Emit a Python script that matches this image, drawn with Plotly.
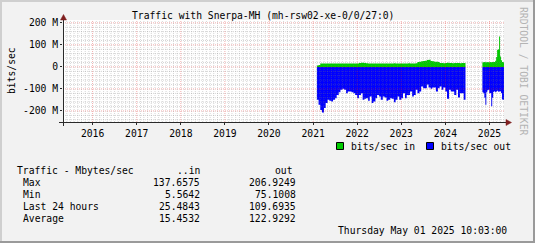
import plotly.graph_objects as go
import pandas as pd

# ---------------- data ----------------
# segment 1: semi-monthly bins, Feb 2021 .. mid Jun 2024 (values in Mbit/s)
seg1_first_bin = "2021-02-01"
seg1_bins = 81
seg1_end = "2024-06-16"
seg1_in = [6, 9, 15, 16, 16, 15, 16, 16, 15, 16,
           16, 16, 15, 16, 16, 16, 15, 16, 16, 15,
           16, 16, 16, 18, 19, 19, 18, 17, 16, 15,
           16, 16, 15, 16, 16, 16, 16, 15, 16, 16,
           16, 16, 17, 16, 16, 16, 15, 16, 16, 16,
           17, 16, 16, 16, 17, 22, 24, 26, 27, 28,
           31, 32, 27, 26, 24, 23, 22, 18, 18, 17,
           18, 19, 18, 18, 17, 18, 18, 18, 17, 18,
           18]
seg1_out = [149, 172, 195, 206.9, 187, 164, 149, 154, 157, 149,
            142, 127, 115, 104, 99.5, 104, 119, 112, 112, 115,
            119, 127, 142, 127, 119, 149, 145, 142, 154, 134,
            164, 157, 142, 127, 134, 149, 134, 139, 154, 149,
            142, 145, 160, 149, 134, 149, 142, 119, 142, 127,
            127, 112, 134, 127, 104, 119, 112, 89, 96.5, 96.5,
            80, 93.5, 99.5, 93.5, 93.5, 112, 96.5, 89, 104, 93.5,
            112, 145, 104, 112, 112, 127, 104, 139, 119, 119,
            149]

# segment 2: ~8-day bins, Nov 2024 .. May 2025
seg2_start = "2024-11-03"
seg2_end = "2025-05-01"
seg2_in = [21, 21, 22, 21, 21, 22, 21, 21, 22, 21, 22,
           22, 22, 28, 45, 77, 80, 137.66, 47, 30, 22, 21]
seg2_out = [115, 120, 140, 172, 115, 106, 104, 118, 120, 178, 140,
            114, 110, 115, 112, 108, 113, 111, 110, 118, 148, 149]

x_range = ["2015-05-01", "2025-05-01"]
y_range = [-250, 213]
years = list(range(2016, 2026))
year_labels = [str(y) for y in years]
y_ticks = [-200, -100, 0, 100, 200]
y_tick_labels = ["-200 M", "-100 M", "0", "100 M", "200 M"]

title = "Traffic with Snerpa-MH (mh-rsw02-xe-0/0/27:0)"
legend_names = ["bits/sec in", "bits/sec out"]
stats_header = ["Traffic - Mbytes/sec", "..in", "out"]
stats_rows = ["Max", "Min", "Last 24 hours", "Average"]
stats_in = ["137.6575", "5.5642", "25.4843", "15.4532"]
stats_out = ["206.9249", "75.1008", "109.6935", "122.9292"]
timestamp = "Thursday May 01 2025 10:03:00"
watermark = "RRDTOOL / TOBI OETIKER"

C_IN = "#00CC00"
C_OUT = "#0000FF"

# ---------------- layout geometry ----------------
W, H = 535, 243
L, R, T, B = 63, 31, 20, 121
PW, PH = W - L - R, H - T - B
MONO = "DejaVu Sans Mono"
FS = 9.7


def px(x):
    return (x - L) / PW


def py(y):
    return (H - B - y) / PH


def step_xy(edges, vals):
    return list(edges), list(vals) + [vals[-1]]


seg1_edges = list(pd.date_range(seg1_first_bin, periods=seg1_bins, freq="SMS")) + [pd.Timestamp(seg1_end)]
seg2_edges = list(pd.date_range(seg2_start, seg2_end, periods=len(seg2_in) + 1))

fig = go.Figure()
for edges, vin, vout in [(seg1_edges, seg1_in, seg1_out), (seg2_edges, seg2_in, seg2_out)]:
    xs, ys = step_xy(edges, vin)
    fig.add_trace(go.Scatter(x=xs, y=ys, mode="lines", line=dict(width=0, shape="hv"),
                             fill="tozeroy", fillcolor=C_IN, showlegend=False, hoverinfo="skip"))
    xs, ys = step_xy(edges, [-v for v in vout])
    fig.add_trace(go.Scatter(x=xs, y=ys, mode="lines", line=dict(width=0, shape="hv"),
                             fill="tozeroy", fillcolor=C_OUT, showlegend=False, hoverinfo="skip"))

shapes = []
GRID = "rgba(120,120,120,0.3)"
MGRID = "rgba(215,40,40,0.38)"
DASH = "1px,1px"
# minor vertical grid (monthly)
for d in pd.date_range("2015-06-01", x_range[1], freq="MS"):
    if d.month != 1:
        shapes.append(dict(type="line", xref="x", yref="paper", x0=d, x1=d, y0=0, y1=1,
                           line=dict(color=GRID, width=1, dash=DASH), layer="above"))
# minor horizontal grid (20 M)
for v in range(-240, 213, 20):
    if v % 100 != 0:
        shapes.append(dict(type="line", xref="paper", yref="y", x0=0, x1=1, y0=v, y1=v,
                           line=dict(color=GRID, width=1, dash=DASH), layer="above"))
# major grid
for y in years:
    d = pd.Timestamp(f"{y}-01-01")
    shapes.append(dict(type="line", xref="x", yref="paper", x0=d, x1=d, y0=0, y1=1,
                       line=dict(color=MGRID, width=1, dash=DASH), layer="above"))
for v in y_ticks:
    shapes.append(dict(type="line", xref="paper", yref="y", x0=0, x1=1, y0=v, y1=v,
                       line=dict(color=MGRID, width=1, dash=DASH), layer="above"))

AXIS = "#2a2a2a"
ARROW = "#7F1F1F"
# axes lines
shapes.append(dict(type="line", xref="paper", yref="paper", x0=px(59), x1=px(507), y0=py(122.5), y1=py(122.5),
                   line=dict(color=AXIS, width=1), layer="above"))
shapes.append(dict(type="line", xref="paper", yref="paper", x0=px(63.5), x1=px(63.5), y0=py(126), y1=py(17),
                   line=dict(color=AXIS, width=1), layer="above"))
# arrows
shapes.append(dict(type="path", xref="paper", yref="paper",
                   path=f"M {px(506)} {py(119.5)} L {px(511.5)} {py(122.5)} L {px(506)} {py(125.5)} Z",
                   fillcolor=ARROW, line=dict(color=ARROW, width=0.5), layer="above"))
shapes.append(dict(type="path", xref="paper", yref="paper",
                   path=f"M {px(60.5)} {py(20)} L {px(63.5)} {py(14.5)} L {px(66.5)} {py(20)} Z",
                   fillcolor=ARROW, line=dict(color=ARROW, width=0.5), layer="above"))
# frame shading
SHADEA, SHADEB = "#CFCFCF", "#9A9A9A"
shapes.append(dict(type="line", xref="paper", yref="paper", x0=px(0), x1=px(W), y0=py(1), y1=py(1),
                   line=dict(color=SHADEA, width=2)))
shapes.append(dict(type="line", xref="paper", yref="paper", x0=px(1), x1=px(1), y0=py(0), y1=py(H),
                   line=dict(color=SHADEA, width=2)))
shapes.append(dict(type="line", xref="paper", yref="paper", x0=px(0), x1=px(W), y0=py(H - 1), y1=py(H - 1),
                   line=dict(color=SHADEB, width=2)))
shapes.append(dict(type="line", xref="paper", yref="paper", x0=px(W - 1), x1=px(W - 1), y0=py(0), y1=py(H),
                   line=dict(color=SHADEB, width=2)))
# legend boxes
for x0, col in [(336.5, C_IN), (426.5, C_OUT)]:
    shapes.append(dict(type="rect", xref="paper", yref="paper", x0=px(x0), x1=px(x0 + 7),
                       y0=py(149.5), y1=py(142.5), fillcolor=col, line=dict(color="#000000", width=1)))

ann = []


def text(x, y, s, anchor="left", angle=0, color="#000000"):
    ann.append(dict(x=px(x), y=py(y), xref="paper", yref="paper", text=s, showarrow=False,
                    xanchor=anchor, yanchor="middle", textangle=angle,
                    font=dict(family=MONO, size=FS, color=color)))


text(130, 15.5, title)
text(11, 71, "bits/sec", anchor="center", angle=-90)
text(524, 71, watermark, anchor="center", angle=90, color="#B4B4B4")
text(349, 146, legend_names[0])
text(439, 146, legend_names[1])
text(15, 170.7, stats_header[0])
text(201.7, 170.7, stats_header[1], anchor="right")
text(272.7, 170.7, stats_header[2])
for i, (lab, vi, vo) in enumerate(zip(stats_rows, stats_in, stats_out)):
    yy = 182.4 + 12.1 * i
    text(20.7, yy, lab)
    text(201.7, yy, vi, anchor="right")
    text(297.7, yy, vo, anchor="right")
text(509.3, 230.5, timestamp, anchor="right")

fig.update_layout(
    width=W, height=H, margin=dict(l=L, r=R, t=T, b=B, pad=0),
    paper_bgcolor="#F2F2F2", plot_bgcolor="#FFFFFF",
    shapes=shapes, annotations=ann, showlegend=False,
    xaxis=dict(type="date", range=x_range, showgrid=False, zeroline=False, showline=False,
               tickvals=[pd.Timestamp(f"{y}-01-01") for y in years], ticktext=year_labels,
               ticks="outside", ticklen=2, tickcolor=AXIS,
               tickfont=dict(family=MONO, size=FS, color="#000000")),
    yaxis=dict(range=y_range, showgrid=False, zeroline=False, showline=False,
               tickvals=y_ticks, ticktext=y_tick_labels,
               ticks="outside", ticklen=2, tickcolor=AXIS,
               tickfont=dict(family=MONO, size=FS, color="#000000")),
)

fig.write_html("out.html")
